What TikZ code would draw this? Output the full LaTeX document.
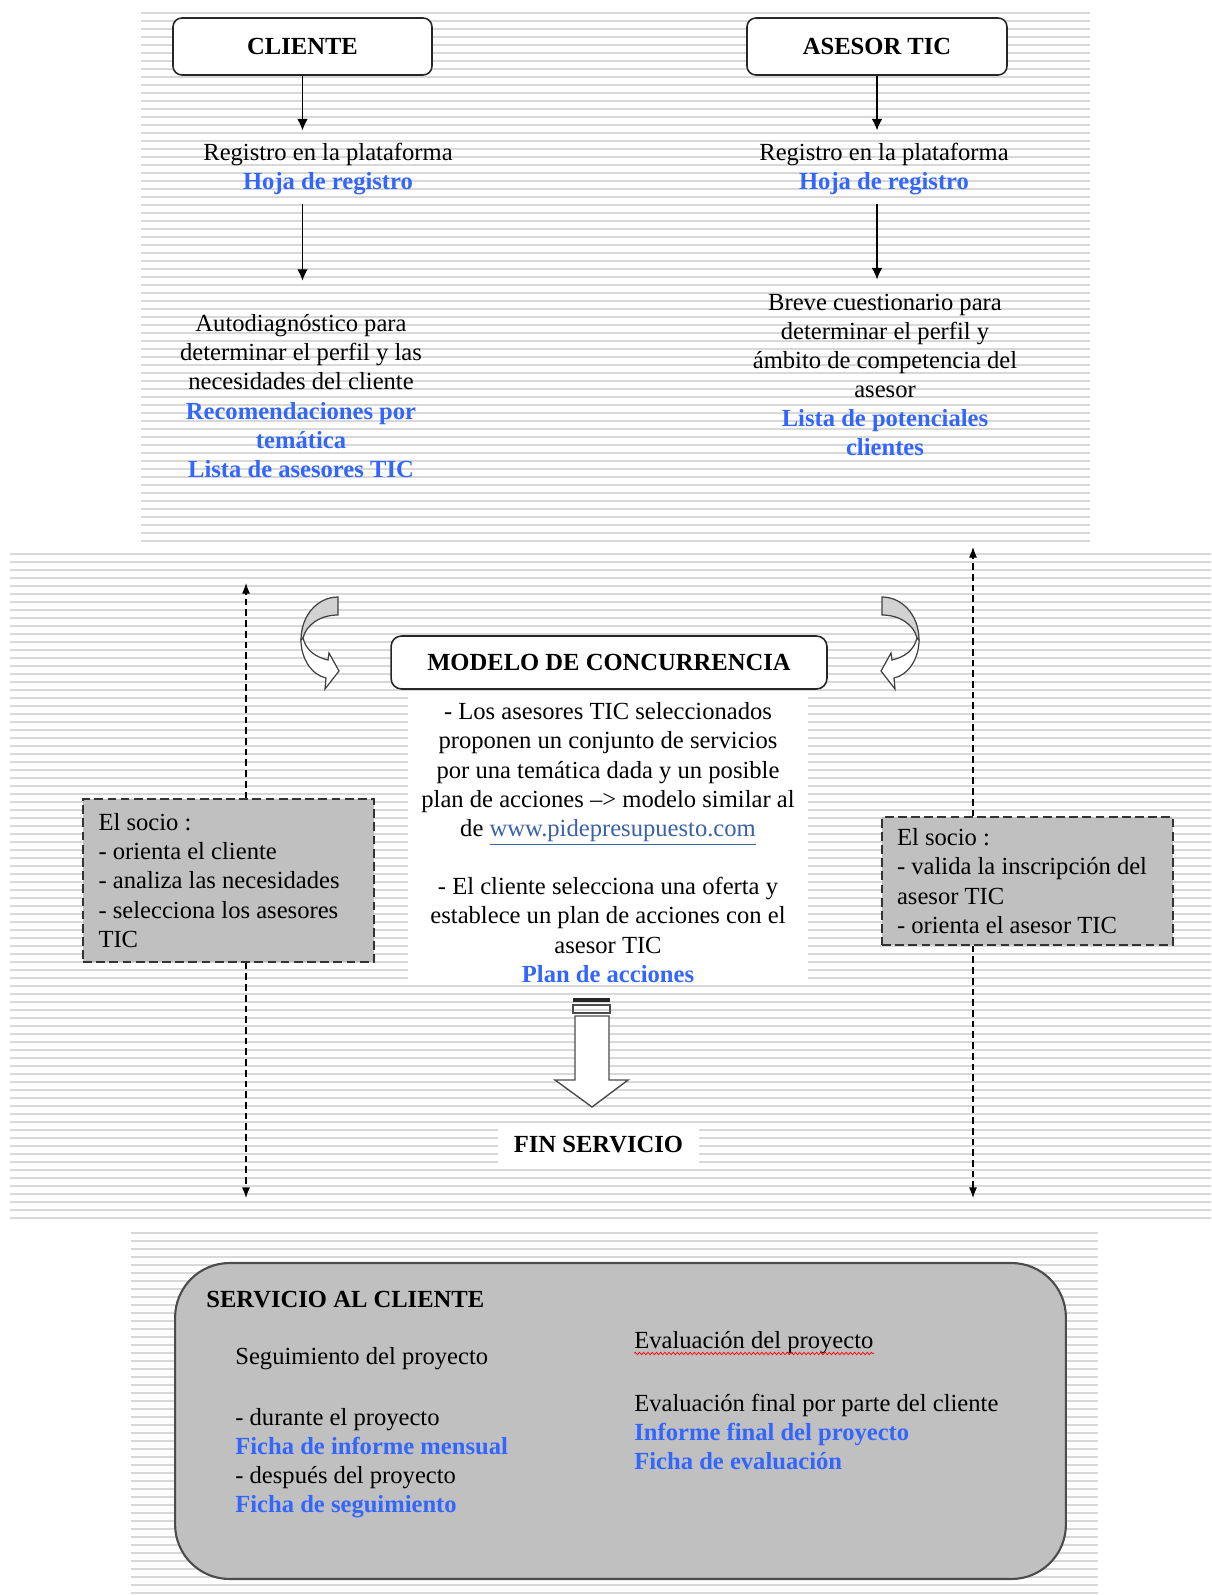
\documentclass[tikz,border=0pt]{standalone}
\usepackage{fontspec}
\setmainfont{Liberation Serif}
\usetikzlibrary{arrows.meta,decorations.pathmorphing}
\definecolor{docblue}{RGB}{51,102,255}
\definecolor{urlblue}{RGB}{58,98,168}
\definecolor{silver}{RGB}{192,192,192}
\definecolor{stripegray}{RGB}{216,216,216}
\newcommand{\doc}[1]{\textcolor{docblue}{\bfseries #1}}
\newcommand{\bodysize}{\fontsize{14}{16.6}\selectfont}
\tikzset{
  stripe/.style={stripegray, line width=0.75pt},
  titlebox/.style={draw=black!85, line width=0.9pt, rounded corners=5pt, fill=white, font=\bodysize\bfseries, inner sep=0pt},
  txt/.style={inner sep=0pt, align=center},
  sociobox/.style={draw=black!80, line width=0.8pt, dash pattern=on 5pt off 2.5pt, fill=silver, inner xsep=0.31cm, text width=5.2cm, align=flush left},
  flow/.style={-{Latex[length=6.5pt,width=6pt]}, line width=0.7pt},
  link/.style={-{Latex[length=6pt,width=4.5pt]}, line width=0.6pt, dash pattern=on 3.8pt off 2.3pt},
  twist/.style={draw=black!75, line width=0.7pt},
  servbox/.style={draw=black!70, line width=1.2pt, rounded corners=31pt, fill=silver},
}
\begin{document}
\begin{tikzpicture}[x=0.02cm, y=-0.02cm, font=\bodysize]
\useasboundingbox (0,0) rectangle (1211,1595);
\fill[white] (0,0) rectangle (1211,1595);

% striped panels
\foreach \y in {13,21,...,541} \draw[stripe] (141,\y) -- (1090,\y);
\foreach \y in {554,562,...,1220} \draw[stripe] (10,\y) -- (1211,\y);
\foreach \y in {1233,1241,...,1595} \draw[stripe] (131,\y) -- (1098,\y);

% client and adviser columns
\node[titlebox, minimum width=5.18cm, minimum height=1.14cm] (cliente) at (302.5,46.5) {CLIENTE};
\node[titlebox, minimum width=5.2cm, minimum height=1.14cm] (asesor) at (877,46.5) {ASESOR TIC};

\node[txt] (regC) at (328,169) {Registro en la plataforma\\ \doc{Hoja de registro}};
\node[txt] (regA) at (884,169) {Registro en la plataforma\\ \doc{Hoja de registro}};

\node[txt] (autoC) at (301,396) {Autodiagnóstico para\\ determinar el perfil y las\\ necesidades del cliente\\ \doc{Recomendaciones por}\\ \doc{temática}\\ \doc{Lista de asesores TIC}};
\node[txt] (cuestA) at (885,375) {Breve cuestionario para\\ determinar el perfil y\\ ámbito de competencia del\\ asesor\\ \doc{Lista de potenciales}\\ \doc{clientes}};

\draw[flow, shorten >=7pt] (cliente.south) -- (cliente.south |- regC.north);
\draw[flow, shorten <=5pt, shorten >=19pt] (cliente.south |- regC.south) -- (cliente.south |- autoC.north);
\draw[flow, shorten >=7pt] (asesor.south) -- (asesor.south |- regA.north);
\draw[flow, shorten <=5pt, shorten >=8pt] (asesor.south |- regA.south) -- (asesor.south |- cuestA.north);

% concurrence model
\node[titlebox, minimum width=8.72cm, minimum height=1.06cm, rounded corners=6pt] (modelo) at (609,662.5) {MODELO DE CONCURRENCIA};
\fill[white] (408,693) rectangle (808,980);
\node[txt] (modtext) at (608,842.5) {- Los asesores TIC seleccionados\\ proponen un conjunto de servicios\\ por una temática dada y un posible\\ plan de acciones \textendash{}> modelo similar al\\ de \textcolor{urlblue}{\underline{www.pidepresupuesto.com}}\\[16.6pt] - El cliente selecciona una oferta y\\ establece un plan de acciones con el\\ asesor TIC\\ \doc{Plan de acciones}};

% curved arrows
\begin{scope}[shift={(300,597)}]
\filldraw[twist, fill=gray!35] (38,0) .. controls (18,0) and (1,18) .. (1,43) -- (3,41) .. controls (6,28) and (20,18) .. (38,18) -- cycle;
\filldraw[twist, fill=white] (1,43) .. controls (1,62) and (12,78) .. (26,81) -- (25,92) -- (39,74) -- (29,56) -- (28,63) .. controls (15,60) and (6,53) .. (3,41) -- cycle;
\end{scope}
\begin{scope}[shift={(920,597)}, xscale=-1]
\filldraw[twist, fill=gray!35] (38,0) .. controls (18,0) and (1,18) .. (1,43) -- (3,41) .. controls (6,28) and (20,18) .. (38,18) -- cycle;
\filldraw[twist, fill=white] (1,43) .. controls (1,62) and (12,78) .. (26,81) -- (25,92) -- (39,74) -- (29,56) -- (28,63) .. controls (15,60) and (6,53) .. (3,41) -- cycle;
\end{scope}

% partner boxes
\node[sociobox, minimum height=3.26cm] (socioC) at (228.5,880.5) {El socio :\\ - orienta el cliente\\ - analiza las necesidades\\ - selecciona los asesores\\ TIC};
\node[sociobox, minimum height=2.56cm, inner xsep=0.3cm, text width=5.22cm] (socioA) at (1027.5,881) {El socio :\\ - valida la inscripción del\\ asesor TIC\\ - orienta el asesor TIC};

\coordinate (upL) at (246,583);
\coordinate (dnL) at (246,1198);
\coordinate (upA) at (973,547);
\coordinate (dnA) at (973,1198);
\draw[link] (socioC.north -| upL) -- (upL);
\draw[link] (socioC.south -| dnL) -- (dnL);
\draw[link] (socioA.north -| upA) -- (upA);
\draw[link] (socioA.south -| dnA) -- (dnA);

% end of service
\fill[black!85] (573,998) rectangle (610,1002);
\draw[black!70, line width=0.7pt] (573,1005) rectangle (610,1013);
\draw[black!70, line width=0.8pt, fill=white] (575,1016) -- (609,1016) -- (609,1080) -- (628,1080) -- (592,1107) -- (555,1080) -- (575,1080) -- cycle;
\node[txt, fill=white, minimum width=4.02cm, minimum height=0.74cm, font=\bodysize\bfseries] (fin) at (598.5,1144.5) {FIN SERVICIO};

% customer service
\node[servbox, minimum width=17.82cm, minimum height=6.32cm] (serv) at (620.5,1421) {};
\node[txt, anchor=west, font=\bodysize\bfseries] (servt) at (206,1300) {SERVICIO AL CLIENTE};
\node[txt, anchor=west] (segp) at (235,1359) {Seguimiento del proyecto};
\node[txt, anchor=west, align=flush left] (segl) at (235,1463) {- durante el proyecto\\ \doc{Ficha de informe mensual}\\ - después del proyecto\\ \doc{Ficha de seguimiento}};
\node[txt, anchor=west] (evalp) at (634,1343) {Evaluación del proyecto};
\node[txt, anchor=west, align=flush left] (evalf) at (634,1432) {Evaluación final por parte del cliente\\ \doc{Informe final del proyecto}\\ \doc{Ficha de evaluación}};
\draw[red, line width=0.4pt, decorate, decoration={snake, amplitude=0.7pt, segment length=2.4pt}] ([yshift=-2.6pt]evalp.base west) -- ([yshift=-2.6pt]evalp.base east);
\end{tikzpicture}
\end{document}
